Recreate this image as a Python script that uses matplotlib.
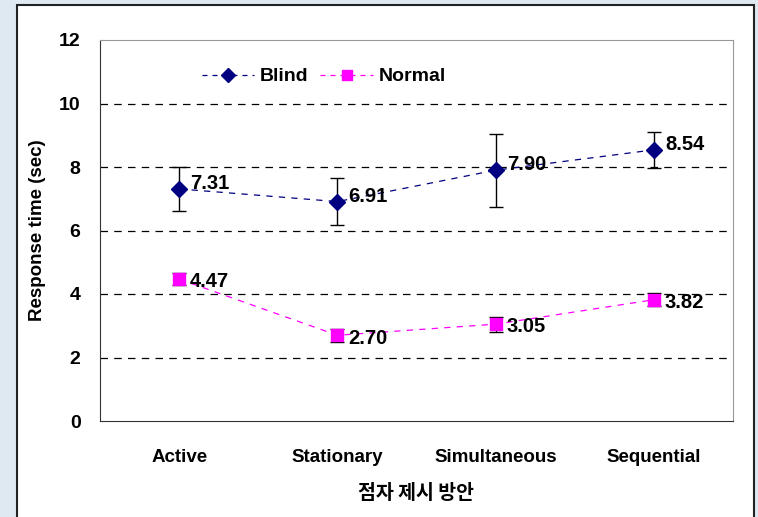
import matplotlib.pyplot as plt
from matplotlib.patches import Rectangle
from matplotlib.lines import Line2D
import numpy as np

# categories and values
conditions = ["Active", "Stationary", "Simultaneous", "Sequential"]
blind_mean = [7.31, 6.91, 7.90, 8.54]
blind_err = [0.70, 0.74, 1.15, 0.56]
normal_mean = [4.47, 2.70, 3.05, 3.82]
normal_err = [0.20, 0.20, 0.24, 0.20]
yticks = [0, 2, 4, 6, 8, 10, 12]

plt.rcParams['font.family'] = ['Liberation Sans', 'Noto Sans CJK KR', 'DejaVu Sans']

fig = plt.figure(figsize=(7.58, 5.17), dpi=100, facecolor='#dfe9f2')

# white panel with black frame
fig.patches.append(Rectangle((17/758, -0.02), (754-17)/758, 1.02 - 5/517,
                             transform=fig.transFigure, facecolor='white',
                             edgecolor='#222222', linewidth=1.5, zorder=-5))

ax = fig.add_axes([100/758, 1-421/517, 633/758, 381/517])
x = np.arange(len(conditions))

ax.errorbar(x, blind_mean, yerr=blind_err, color='#000080', marker='D', markersize=8,
            linestyle=(0, (5, 5)), linewidth=0.9, ecolor='black', elinewidth=1,
            capsize=5, capthick=1, zorder=3)
ax.errorbar(x, normal_mean, yerr=normal_err, color='#ff00ff', marker='s', markersize=8,
            linestyle=(0, (5, 5)), linewidth=0.9, ecolor='black', elinewidth=1,
            capsize=5, capthick=1, zorder=3)

for xi, v in zip(x, blind_mean):
    ax.annotate(f"{v:.2f}", (xi, v), xytext=(8, 4), textcoords='offset points',
                ha='left', va='center', fontsize=14.5, fontweight='bold', zorder=4)
for xi, v in zip(x, normal_mean):
    ax.annotate(f"{v:.2f}", (xi, v), xytext=(8, -2), textcoords='offset points',
                ha='left', va='center', fontsize=14.5, fontweight='bold', zorder=4)

ax.set_xlim(-0.5, 3.5)
ax.set_ylim(0, 12)
ax.set_yticks(yticks)
ax.set_xticks(x)
ax.set_xticklabels(conditions, fontsize=13.5, fontweight='bold')
ax.tick_params(axis='y', labelsize=14, length=0, pad=14)
ax.tick_params(axis='x', length=0, pad=20)
for lab in ax.get_yticklabels():
    lab.set_fontweight('bold')

for yv in yticks[1:-1]:
    ax.axhline(yv, color='black', linestyle=(0, (6, 5)), linewidth=0.9, zorder=1)

ax.spines['top'].set_color('#999999')
ax.spines['right'].set_color('#999999')
ax.spines['left'].set_color('#333333')
ax.spines['bottom'].set_color('#333333')

ax.set_ylabel('Response time (sec)', fontsize=13.5, fontweight='bold', labelpad=9)
ax.set_xlabel('점자 제시 방안', fontsize=14, fontweight='bold', labelpad=13,
              family=['Noto Sans CJK KR', 'DejaVu Sans'])

handles = [
    Line2D([], [], color='#000080', marker='D', markersize=7, linestyle=(0, (4, 4)), linewidth=0.9),
    Line2D([], [], color='#ff00ff', marker='s', markersize=7, linestyle=(0, (4, 4)), linewidth=0.9),
]
leg = ax.legend(handles, ['Blind', 'Normal'], loc='upper left', bbox_to_anchor=(0.133, 0.973),
                ncol=2, frameon=False, prop={'weight': 'bold', 'size': 14},
                handlelength=2.7, columnspacing=0.6, handletextpad=0.3)

plt.savefig('out.png', dpi=100, facecolor=fig.get_facecolor())
